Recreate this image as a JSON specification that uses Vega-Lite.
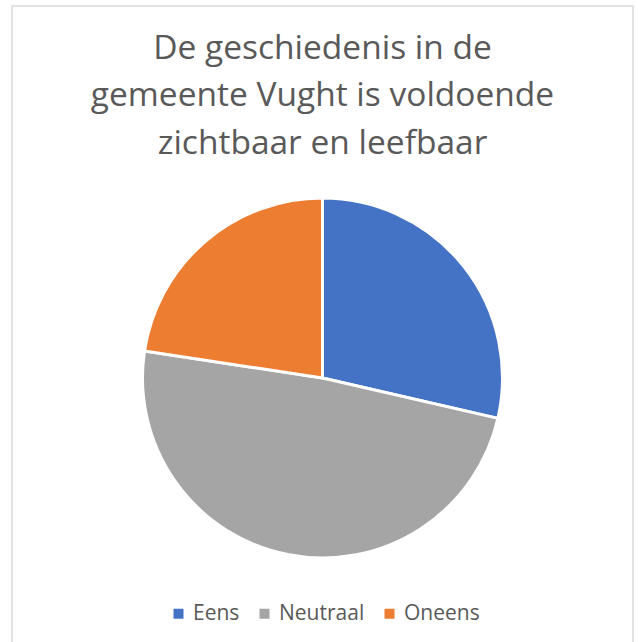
{
  "$schema": "https://vega.github.io/schema/vega-lite/v6.json",
  "autosize": "none",
  "width": 621,
  "height": 640,
  "padding": {"left": 12, "top": 6, "right": 5, "bottom": 0},
  "background": "white",
  "view": {"stroke": "#d9d9d9", "strokeWidth": 1.5},
  "title": {
    "text": ["De geschiedenis in de", "gemeente Vught is voldoende", "zichtbaar en leefbaar"],
    "font": "Open Sans",
    "fontSize": 33.5,
    "fontWeight": "normal",
    "color": "#595959",
    "lineHeight": 47.5,
    "anchor": "middle",
    "frame": "group",
    "baseline": "top",
    "offset": -155
  },
  "data": {
    "values": [
      {"antwoord": "Eens", "aandeel": 28.6},
      {"antwoord": "Neutraal", "aandeel": 48.8},
      {"antwoord": "Oneens", "aandeel": 22.6}
    ]
  },
  "mark": {"type": "arc", "outerRadius": 180, "yOffset": 52, "stroke": "white", "strokeWidth": 3},
  "encoding": {
    "theta": {"field": "aandeel", "type": "quantitative"},
    "color": {
      "field": "antwoord",
      "type": "nominal",
      "scale": {"domain": ["Eens", "Neutraal", "Oneens"], "range": ["#4472C4", "#A5A5A5", "#ED7D31"]},
      "legend": {
        "title": null,
        "orient": "none",
        "direction": "horizontal",
        "legendX": 156,
        "legendY": 597,
        "symbolType": "square",
        "symbolSize": 100,
        "symbolStrokeWidth": 0,
        "labelFont": "Open Sans",
        "labelFontSize": 21,
        "labelColor": "#595959",
        "labelOffset": 4,
        "columnPadding": 14
      }
    }
  }
}
